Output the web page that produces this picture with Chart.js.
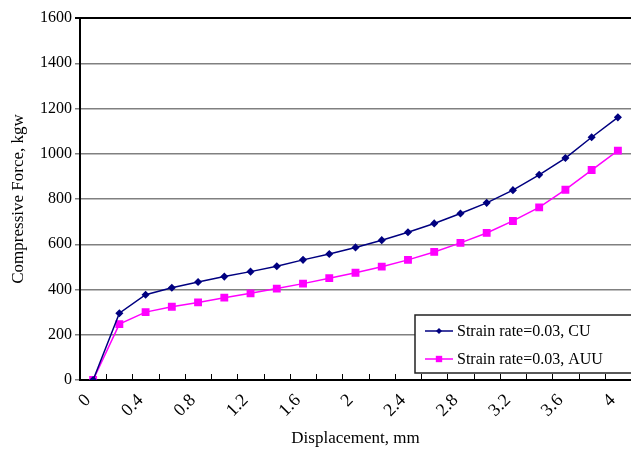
<!DOCTYPE html>
<html>
<head>
<meta charset="utf-8">
<script src="https://cdn.jsdelivr.net/npm/chart.js@4/dist/chart.umd.min.js"></script>
<style>
  html, body { margin: 0; padding: 0; background: #fff; overflow: hidden; }
  #wrap { width: 631px; height: 455px; overflow: hidden; }
</style>
</head>
<body>
<div id="wrap"><canvas id="chart" width="637" height="455"></canvas></div>
<script>
// displacement categories (mm)
const displacement = ["0", "0.2", "0.4", "0.6", "0.8", "1", "1.2", "1.4", "1.6", "1.8", "2",
  "2.2", "2.4", "2.6", "2.8", "3", "3.2", "3.4", "3.6", "3.8", "4"];
// compressive force (kgw)
const forceCU = [0, 295, 377, 408, 433, 457, 479, 503, 531, 557, 586,
  618, 653, 692, 736, 783, 839, 907, 981, 1073, 1161];
const forceAUU = [0, 247, 300, 324, 343, 364, 383, 404, 426, 450, 474,
  501, 531, 566, 606, 650, 703, 763, 841, 928, 1014];
const seriesNames = ["Strain rate=0.03, CU", "Strain rate=0.03, AUU"];
const yTicks = [0, 200, 400, 600, 800, 1000, 1200, 1400, 1600];

const FONT = "'Liberation Serif', 'Times New Roman', serif";

// small tick marks pointing up into the plot, between categories
const innerTicks = {
  id: "innerTicks",
  afterDraw(chart) {
    const x = chart.scales.x;
    const ctx = chart.ctx;
    const bottom = chart.chartArea.bottom;
    ctx.save();
    ctx.strokeStyle = "#000";
    ctx.lineWidth = 1;
    for (let i = 1; i < displacement.length; i++) {
      const px = Math.round((x.getPixelForValue(i - 1) + x.getPixelForValue(i)) / 2) + 0.5;
      ctx.beginPath();
      ctx.moveTo(px, bottom);
      ctx.lineTo(px, bottom - 6);
      ctx.stroke();
    }
    ctx.restore();
  }
};

function drawMarker(ctx, style, r, x, y) {
  if (style === "rect") {
    const s = r * Math.SQRT1_2;
    ctx.rect(x - s, y - s, 2 * s, 2 * s);
  } else {
    ctx.moveTo(x - r, y);
    ctx.lineTo(x, y - r);
    ctx.lineTo(x + r, y);
    ctx.lineTo(x, y + r);
    ctx.closePath();
  }
}

// legend box inside the plot, lower right
const boxLegend = {
  id: "boxLegend",
  afterDatasetsDraw(chart) {
    const ctx = chart.ctx;
    const left = 415, top = 315, w = 230, h = 58;
    ctx.save();
    ctx.fillStyle = "#fff";
    ctx.fillRect(left, top, w, h);
    ctx.strokeStyle = "#222";
    ctx.lineWidth = 1.5;
    ctx.strokeRect(left, top, w, h);
    ctx.font = "16px " + FONT;
    ctx.textBaseline = "middle";
    chart.data.datasets.forEach((ds, i) => {
      const cy = top + 16 + i * 28;
      ctx.strokeStyle = ds.borderColor;
      ctx.lineWidth = 1.5;
      ctx.beginPath();
      ctx.moveTo(425, cy);
      ctx.lineTo(453, cy);
      ctx.stroke();
      ctx.fillStyle = ds.pointBackgroundColor;
      ctx.beginPath();
      drawMarker(ctx, ds.pointStyle, ds.pointRadius, 439, cy);
      ctx.fill();
      ctx.fillStyle = "#000";
      ctx.fillText(ds.label, 457, cy + 1);
    });
    ctx.restore();
  }
};

new Chart(document.getElementById("chart").getContext("2d"), {
  type: "line",
  data: {
    labels: displacement,
    datasets: [
      {
        label: seriesNames[0],
        data: forceCU,
        borderColor: "#000080",
        backgroundColor: "#000080",
        pointBackgroundColor: "#000080",
        pointBorderColor: "#000080",
        pointStyle: "rectRot",
        pointRadius: 3,
        borderWidth: 1.5,
        tension: 0
      },
      {
        label: seriesNames[1],
        data: forceAUU,
        borderColor: "#FF00FF",
        backgroundColor: "#FF00FF",
        pointBackgroundColor: "#FF00FF",
        pointBorderColor: "#FF00FF",
        pointStyle: "rect",
        pointRadius: 4.5,
        borderWidth: 1.5,
        tension: 0
      }
    ]
  },
  options: {
    responsive: false,
    animation: false,
    layout: { padding: { top: 18, right: 1, left: 0, bottom: 0 } },
    plugins: {
      legend: { display: false },
      tooltip: { enabled: false }
    },
    scales: {
      x: {
        type: "category",
        offset: true,
        afterFit: (s) => { s.height = 75; s.paddingLeft = 0; s.paddingRight = 0; },
        grid: { display: false, drawTicks: false },
        border: { display: true, color: "#000", width: 2 },
        ticks: {
          autoSkip: false,
          minRotation: 45,
          maxRotation: 45,
          padding: 10,
          labelOffset: -5,
          color: "#000",
          font: { family: FONT, size: 18 },
          callback: (val, i) => (i % 2 === 0 ? displacement[i] : "")
        },
        title: {
          display: true,
          text: "Displacement, mm",
          color: "#000",
          font: { family: FONT, size: 17 },
          padding: { top: 0, bottom: 6 }
        }
      },
      y: {
        min: 0,
        max: 1600,
        afterFit: (s) => { s.width = 80; },
        afterBuildTicks: (s) => { s.ticks = yTicks.map((v) => ({ value: v })); },
        grid: {
          color: (c) => (c.tick && c.tick.value === 1600 ? "#000" : "#808080"),
          lineWidth: (c) => (c.tick && c.tick.value === 1600 ? 2 : 1.5),
          tickLength: 5
        },
        border: { display: true, color: "#000", width: 2 },
        ticks: {
          padding: 3,
          color: "#000",
          font: { family: FONT, size: 16 },
          callback: (v) => String(v)
        },
        title: {
          display: true,
          text: "Compressive Force, kgw",
          color: "#000",
          font: { family: FONT, size: 17 },
          padding: { top: 8, bottom: 0 }
        }
      }
    }
  },
  plugins: [innerTicks, boxLegend]
});
</script>
</body>
</html>
